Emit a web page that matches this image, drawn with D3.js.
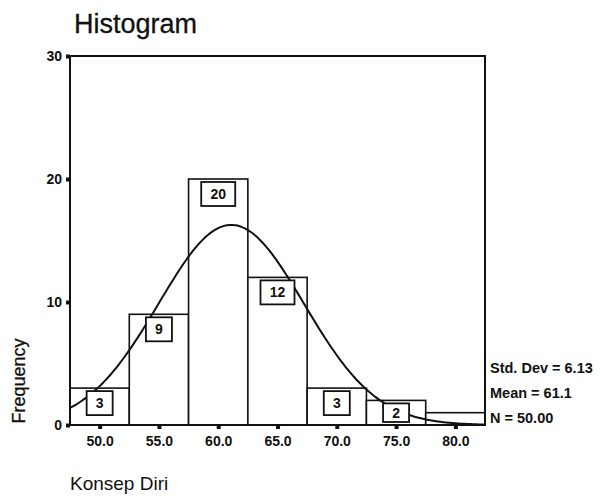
<!DOCTYPE html>
<html>
<head>
<meta charset="utf-8">
<script src="https://cdn.jsdelivr.net/npm/d3@7"></script>
<style>
  html, body { margin: 0; padding: 0; background: #fff; }
  svg { display: block; }
  text { font-family: "Liberation Sans", Arial, sans-serif; fill: #111; }
</style>
</head>
<body>
<svg id="chart" width="600" height="498"></svg>
<script>
// ---- data ----
const binMids = [50, 55, 60, 65, 70, 75, 80];
const counts = [3, 9, 20, 12, 3, 2, 1];
const binWidth = 5;
const xTicks = [50, 55, 60, 65, 70, 75, 80];
const yTicks = [0, 10, 20, 30];
const statMean = 61.1;
const statSd = 6.13;
const statN = 50;
const statLabels = ["Std. Dev = 6.13", "Mean = 61.1", "N = 50.00"];

// ---- layout ----
const svg = d3.select("#chart");
const x = d3.scaleLinear().domain([47.5, 82.5]).range([70, 485]);
const y = d3.scaleLinear().domain([0, 30]).range([425, 56]);

// title
svg.append("text").attr("x", 74).attr("y", 33)
  .attr("font-size", 27).attr("fill", "#111").attr("stroke", "#111").attr("stroke-width", 0.3)
  .text("Histogram");

// bars
svg.append("g").selectAll("rect").data(binMids).join("rect")
  .attr("x", (d) => x(d - binWidth / 2))
  .attr("y", (d, i) => y(counts[i]))
  .attr("width", (d) => x(d + binWidth / 2) - x(d - binWidth / 2))
  .attr("height", (d, i) => y(0) - y(counts[i]))
  .attr("fill", "#fff").attr("stroke", "#111").attr("stroke-width", 1.6);

// normal curve from the chart's stated statistics
const normPts = d3.range(47.5, 82.5001, 0.25).map((v) => {
  const z = (v - statMean) / statSd;
  return [v, statN * binWidth / (statSd * Math.sqrt(2 * Math.PI)) * Math.exp(-0.5 * z * z)];
});
svg.append("path").datum(normPts)
  .attr("d", d3.line().x((d) => x(d[0])).y((d) => y(d[1])).curve(d3.curveBasis))
  .attr("fill", "none").attr("stroke", "#111").attr("stroke-width", 2);

// value boxes
const lab = svg.append("g");
binMids.forEach((d, i) => {
  if (counts[i] < 2) return;
  const s = String(counts[i]);
  const w = 18 + 8 * s.length;
  const top = y(counts[i]) + 3;
  const h = Math.min(24, y(0) - 3 - top);
  lab.append("rect").attr("x", x(d) - w / 2).attr("y", top)
    .attr("width", w).attr("height", h)
    .attr("fill", "#fff").attr("stroke", "#111").attr("stroke-width", 1.8);
  lab.append("text").attr("x", x(d)).attr("y", top + h / 2 + 5)
    .attr("text-anchor", "middle").attr("font-size", 14).attr("font-weight", "bold")
    .attr("fill", "#111").text(s);
});

// frame
svg.append("rect").attr("x", x(47.5)).attr("y", y(30))
  .attr("width", x(82.5) - x(47.5)).attr("height", y(0) - y(30))
  .attr("fill", "none").attr("stroke", "#111").attr("stroke-width", 2);

// y axis
const yAxis = d3.axisLeft(y).tickValues(yTicks).tickSize(4).tickPadding(4)
  .tickFormat(d3.format("d"));
const gy = svg.append("g").attr("transform", `translate(${x(47.5)},0)`).call(yAxis);
gy.select(".domain").remove();
gy.selectAll(".tick line").attr("stroke", "#111").attr("stroke-width", 4);
gy.selectAll(".tick text").attr("font-size", 14).attr("font-weight", "bold")
  .attr("font-family", "Liberation Sans, Arial, sans-serif").attr("fill", "#111");

// x axis
const xAxis = d3.axisBottom(x).tickValues(xTicks).tickSize(4).tickPadding(7)
  .tickFormat(d3.format(".1f"));
const gx = svg.append("g").attr("transform", `translate(0,${y(0)})`).call(xAxis);
gx.select(".domain").remove();
gx.selectAll(".tick line").attr("stroke", "#111").attr("stroke-width", 4);
gx.selectAll(".tick text").attr("font-size", 14).attr("font-weight", "bold")
  .attr("font-family", "Liberation Sans, Arial, sans-serif").attr("fill", "#111");

// axis titles
svg.append("text").attr("transform", "translate(25,381) rotate(-90)")
  .attr("text-anchor", "middle").attr("font-size", 18)
  .attr("fill", "#111").attr("stroke", "#111").attr("stroke-width", 0.3)
  .text("Frequency");
svg.append("text").attr("x", 70).attr("y", 490)
  .attr("font-size", 19).attr("fill", "#111").text("Konsep Diri");

// stats legend
svg.append("g").selectAll("text").data(statLabels).join("text")
  .attr("x", 490).attr("y", (d, i) => 373 + i * 25)
  .attr("font-size", 14.5).attr("font-weight", "bold").attr("fill", "#111")
  .text((d) => d);
</script>
</body>
</html>
